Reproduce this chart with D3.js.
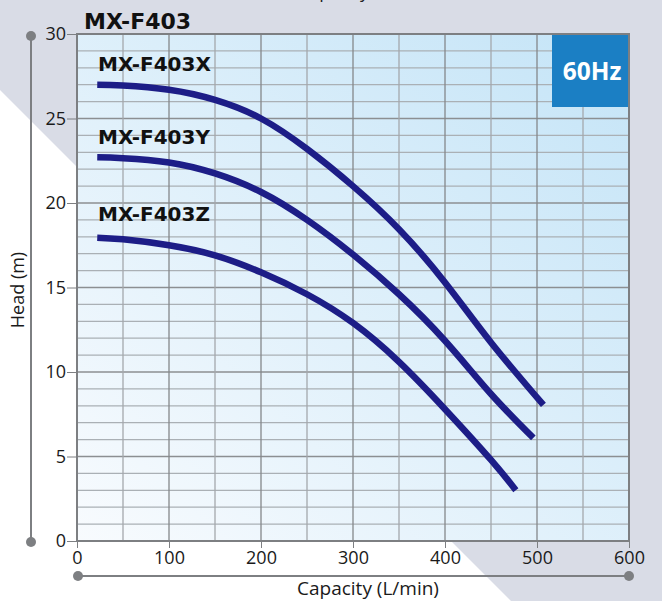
<!DOCTYPE html>
<html><head><meta charset="utf-8">
<script src="https://cdn.jsdelivr.net/npm/d3@7"></script>
<style>body{margin:0;background:#fff;}svg{display:block;font-family:"Open Sans","Noto Sans",sans-serif;}</style>
</head><body>
<svg id="c" width="662" height="601"></svg>
<script>
const xTicks = [0,100,200,300,400,500,600];
const yTicks = [0,5,10,15,20,25,30];
const capX = [22,50,100,150,200,250,300,350,400,450,507];
const headX = [27.0,26.95,26.7,26.1,25.0,23.2,21.0,18.45,15.3,11.75,8.05];
const capY = [22,50,100,150,200,250,300,350,400,450,496];
const headY = [22.7,22.65,22.4,21.75,20.65,19.0,16.95,14.6,11.85,8.7,6.1];
const capZ = [22,50,100,150,200,250,300,350,400,450,477];
const headZ = [17.95,17.85,17.5,16.9,15.9,14.6,12.9,10.6,7.8,4.8,3.0];
const seriesNames = ["MX-F403X","MX-F403Y","MX-F403Z"];
const title = "MX-F403";

const svg = d3.select("#c");
const x = d3.scaleLinear().domain([0,600]).range([77,629]);
const y = d3.scaleLinear().domain([0,30]).range([541,34]);
const FONT = "'Open Sans',sans-serif";
const BOLD = "'DejaVu Sans',sans-serif";

// background
svg.append("rect").attr("width",662).attr("height",601).attr("fill","#fff");
svg.append("path").attr("d","M0,0 L662,0 L662,601 L511,601 L0,90 Z").attr("fill","#d9dce6");
svg.append("text").attr("x",298).attr("y",-2).attr("font-size",18).attr("fill","#222").text("Capacity");

const defs = svg.append("defs");
const g = defs.append("linearGradient").attr("id","pg").attr("x1","0").attr("y1","1").attr("x2","1").attr("y2","0");
g.append("stop").attr("offset","0").attr("stop-color","#f8fbfe");
g.append("stop").attr("offset","1").attr("stop-color","#c4e4f7");
svg.append("rect").attr("x",x(0)).attr("y",y(30)).attr("width",x(600)-x(0)).attr("height",y(0)-y(30)).attr("fill","url(#pg)");

// grid
const grid = svg.append("g");
d3.range(1,30).forEach(v=>{
  grid.append("line").attr("x1",x(0)).attr("x2",x(600)).attr("y1",y(v)).attr("y2",y(v))
    .attr("stroke", v%5===0 ? "#8c8f92" : "#aab0b5").attr("stroke-width",v%5===0?1.4:1.3);
});
d3.range(50,600,50).forEach(v=>{
  grid.append("line").attr("y1",y(0)).attr("y2",y(30)).attr("x1",x(v)).attr("x2",x(v))
    .attr("stroke", v%100===0 ? "#84878a" : "#a4a8ac").attr("stroke-width",1.3);
});

// 60Hz box
svg.append("rect").attr("x",552).attr("y",35).attr("width",x(600)-552).attr("height",72).attr("fill","#1b7fc4");
svg.append("text").attr("x",592).attr("y",80).attr("text-anchor","middle").attr("font-size",24.5).attr("font-weight","bold").attr("font-family",FONT).attr("fill","#fff").text("60Hz");

// border
svg.append("rect").attr("x",x(0)).attr("y",y(30)).attr("width",x(600)-x(0)).attr("height",y(0)-y(30))
  .attr("fill","none").attr("stroke","#7d7f82").attr("stroke-width",2);

// axes
const xAxis = svg.append("g").attr("transform",`translate(0,${y(0)})`)
  .call(d3.axisBottom(x).tickValues(xTicks).tickSize(7).tickPadding(3));
xAxis.select(".domain").remove();
xAxis.selectAll("line").attr("stroke","#7d7f82");
xAxis.selectAll("text").attr("font-size",18).attr("fill","#1a1a1a").attr("font-family",FONT);
const yAxis = svg.append("g").attr("transform",`translate(${x(0)},0)`)
  .call(d3.axisLeft(y).tickValues(yTicks).tickSize(10).tickPadding(1));
yAxis.select(".domain").remove();
yAxis.selectAll("line").attr("stroke","#7d7f82");
yAxis.selectAll("text").attr("font-size",18).attr("fill","#1a1a1a").attr("font-family",FONT);

// decorative axis lines
svg.append("line").attr("x1",31).attr("x2",31).attr("y1",36).attr("y2",542).attr("stroke","#7d7f82").attr("stroke-width",2);
svg.append("circle").attr("cx",31).attr("cy",36).attr("r",5).attr("fill","#7d7f82");
svg.append("circle").attr("cx",31).attr("cy",542).attr("r",5).attr("fill","#7d7f82");
svg.append("line").attr("x1",78).attr("x2",629).attr("y1",576).attr("y2",576).attr("stroke","#7d7f82").attr("stroke-width",2);
svg.append("circle").attr("cx",78).attr("cy",576).attr("r",5).attr("fill","#7d7f82");
svg.append("circle").attr("cx",629).attr("cy",576).attr("r",5).attr("fill","#7d7f82");

svg.append("text").attr("x",368).attr("y",595).attr("text-anchor","middle").attr("font-size",19).attr("fill","#1a1a1a").attr("font-family",FONT).text("Capacity (L/min)");
svg.append("text").attr("transform","translate(24,290) rotate(-90)").attr("text-anchor","middle").attr("font-size",18).attr("fill","#1a1a1a").attr("font-family",FONT).text("Head (m)");

// curves
const line = d3.line().x(d=>x(d[0])).y(d=>y(d[1])).curve(d3.curveNatural);
[[capX,headX],[capY,headY],[capZ,headZ]].forEach(([c,h])=>{
  svg.append("path").attr("d",line(c.map((v,i)=>[v,h[i]]))).attr("fill","none")
    .attr("stroke","#1d1d87").attr("stroke-width",6.5);
});

// labels
const labelPos = [[98,71],[98,144],[98,221]];
seriesNames.forEach((n,i)=>{
  svg.append("text").attr("x",labelPos[i][0]).attr("y",labelPos[i][1]).attr("font-size",20).attr("font-weight","bold").attr("font-family",BOLD).attr("fill","#111").text(n);
});
svg.append("text").attr("x",84).attr("y",29).attr("font-size",22).attr("font-weight","bold").attr("font-family",BOLD).attr("fill","#111").text(title);
</script>
</body></html>
